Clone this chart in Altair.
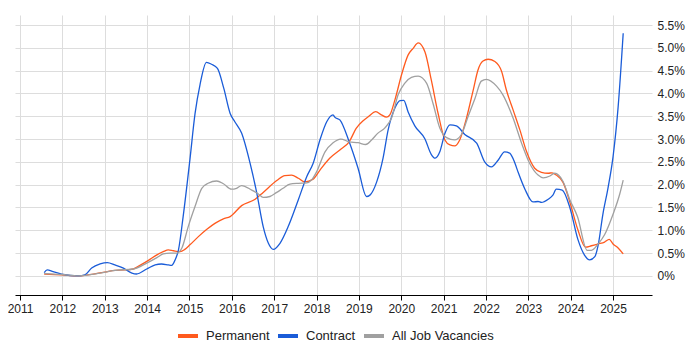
import altair as alt
import pandas as pd

series_names = ["Permanent", "Contract", "All Job Vacancies"]
series_colors = ["#FF5A1E", "#1A5CD8", "#A0A0A0"]

perm_x = [2011.57, 2011.98, 2012.38, 2012.73, 2013.0, 2013.24, 2013.48, 2013.67, 2013.83, 2014.03,
          2014.23, 2014.38, 2014.5, 2014.62, 2014.78, 2014.89, 2015.01, 2015.21, 2015.41, 2015.6,
          2015.8, 2015.96, 2016.23, 2016.55, 2016.74, 2017.06, 2017.25, 2017.41, 2017.57, 2017.72,
          2017.92, 2018.08, 2018.31, 2018.55, 2018.77, 2018.94, 2019.1, 2019.22, 2019.4, 2019.53,
          2019.65, 2019.73, 2019.85, 2020.01, 2020.16, 2020.28, 2020.4, 2020.56, 2020.71, 2020.87,
          2021.03, 2021.15, 2021.26, 2021.38, 2021.54, 2021.7, 2021.81, 2021.93, 2022.05, 2022.21,
          2022.37, 2022.48, 2022.64, 2022.8, 2022.96, 2023.15, 2023.31, 2023.47, 2023.56, 2023.66,
          2023.82, 2023.98, 2024.17, 2024.35, 2024.49, 2024.65, 2024.8, 2024.91, 2025.0, 2025.12,
          2025.24]
perm_y = [0.04, 0.02, 0.0, 0.04, 0.08, 0.12, 0.13, 0.15, 0.23, 0.34,
          0.46, 0.53, 0.57, 0.55, 0.53, 0.58, 0.68, 0.86, 1.02, 1.15,
          1.25, 1.30, 1.54, 1.68, 1.83, 2.09, 2.20, 2.21, 2.14, 2.06,
          2.12, 2.32, 2.58, 2.76, 2.94, 3.24, 3.40, 3.49, 3.60, 3.53,
          3.48, 3.53, 3.86, 4.42, 4.84, 4.99, 5.11, 4.91, 4.29, 3.56,
          2.98, 2.87, 2.85, 2.98, 3.46, 4.08, 4.51, 4.71, 4.75, 4.70,
          4.48, 4.08, 3.64, 3.20, 2.72, 2.36, 2.27, 2.25, 2.26, 2.21,
          2.05, 1.62, 1.01, 0.63, 0.66, 0.70, 0.74, 0.80, 0.70, 0.61,
          0.48]

contract_x = [2011.57, 2011.64, 2011.78, 2011.98, 2012.38, 2012.53, 2012.69, 2012.89, 2013.06, 2013.24,
              2013.44, 2013.64, 2013.75, 2013.99, 2014.19, 2014.34, 2014.5, 2014.58, 2014.66, 2014.74,
              2014.85, 2015.01, 2015.13, 2015.25, 2015.4, 2015.52, 2015.66, 2015.81, 2015.96, 2016.07,
              2016.23, 2016.43, 2016.59, 2016.74, 2016.86, 2016.98, 2017.14, 2017.33, 2017.57, 2017.77,
              2017.92, 2018.08, 2018.24, 2018.39, 2018.43, 2018.55, 2018.77, 2018.98, 2019.18, 2019.26,
              2019.42, 2019.57, 2019.69, 2019.85, 2019.97, 2020.06, 2020.16, 2020.32, 2020.56, 2020.71,
              2020.8, 2020.91, 2021.03, 2021.15, 2021.3, 2021.5, 2021.78, 2021.97, 2022.13, 2022.29,
              2022.44, 2022.56, 2022.68, 2022.76, 2022.92, 2023.11, 2023.23, 2023.31, 2023.47, 2023.58,
              2023.66, 2023.8, 2023.98, 2024.17, 2024.33, 2024.45, 2024.57, 2024.65, 2024.76, 2024.88,
              2025.0, 2025.12, 2025.24]
contract_y = [0.07, 0.13, 0.09, 0.04, 0.0, 0.02, 0.17, 0.26, 0.29, 0.24,
              0.17, 0.06, 0.04, 0.15, 0.24, 0.26, 0.24, 0.23, 0.35, 0.57,
              1.30, 2.55, 3.55, 4.20, 4.68, 4.64, 4.55, 4.11, 3.56, 3.38,
              3.13, 2.47, 1.81, 1.08, 0.72, 0.58, 0.72, 1.08, 1.67, 2.18,
              2.47, 2.98, 3.38, 3.53, 3.48, 3.42, 2.94, 2.36, 1.74, 1.77,
              2.06, 2.58, 3.20, 3.68, 3.84, 3.85, 3.60, 3.29, 3.00, 2.66,
              2.58, 2.72, 3.12, 3.31, 3.29, 3.10, 2.91, 2.50, 2.39, 2.54,
              2.72, 2.69, 2.48, 2.27, 1.90, 1.62, 1.63, 1.61, 1.68, 1.77,
              1.90, 1.88, 1.50, 0.80, 0.45, 0.35, 0.42, 0.68, 1.35, 1.92,
              2.61, 3.70, 5.32]

all_x = [2011.57, 2011.98, 2012.38, 2012.89, 2013.24, 2013.67, 2013.99, 2014.23, 2014.38, 2014.54,
         2014.7, 2014.82, 2014.97, 2015.13, 2015.29, 2015.44, 2015.64, 2015.8, 2015.99, 2016.11,
         2016.23, 2016.47, 2016.62, 2016.74, 2016.9, 2017.06, 2017.21, 2017.37, 2017.57, 2017.77,
         2017.88, 2018.0, 2018.2, 2018.39, 2018.57, 2018.77, 2018.98, 2019.16, 2019.3, 2019.45,
         2019.61, 2019.77, 2019.93, 2020.08, 2020.24, 2020.4, 2020.6, 2020.75, 2020.91, 2021.07,
         2021.26, 2021.42, 2021.58, 2021.74, 2021.89, 2022.01, 2022.25, 2022.4, 2022.64, 2022.84,
         2023.03, 2023.23, 2023.35, 2023.51, 2023.62, 2023.82, 2023.98, 2024.16, 2024.39, 2024.49,
         2024.65, 2024.8, 2025.0, 2025.16, 2025.24]
all_y = [0.05, 0.03, 0.0, 0.06, 0.12, 0.15, 0.28, 0.40, 0.48, 0.50,
         0.50, 0.61, 1.08, 1.52, 1.92, 2.03, 2.08, 2.02, 1.90, 1.92,
         1.98, 1.88, 1.80, 1.72, 1.74, 1.83, 1.92, 2.01, 2.03, 2.04,
         2.10, 2.28, 2.72, 2.92, 3.00, 2.94, 2.92, 2.88, 2.98, 3.13,
         3.24, 3.46, 3.98, 4.22, 4.35, 4.38, 4.22, 3.78, 3.24, 3.03,
         2.98, 3.10, 3.50, 3.89, 4.27, 4.31, 4.16, 3.97, 3.46, 2.91,
         2.47, 2.21, 2.15, 2.19, 2.25, 2.07, 1.67, 1.30, 0.56, 0.56,
         0.70, 0.90, 1.35, 1.80, 2.10]

years = list(range(2011, 2026))
y_ticks = [0, 0.5, 1.0, 1.5, 2.0, 2.5, 3.0, 3.5, 4.0, 4.5, 5.0, 5.5]

frames = []
for name, xs, ys in [("Permanent", perm_x, perm_y),
                     ("Contract", contract_x, contract_y),
                     ("All Job Vacancies", all_x, all_y)]:
    frames.append(pd.DataFrame({"year": xs, "value": ys, "series": name}))
df = pd.concat(frames, ignore_index=True)
df["order"] = df["series"].map({n: i for i, n in enumerate(series_names)})

chart = alt.Chart(df).mark_line(strokeWidth=1.3, interpolate="monotone").encode(
    x=alt.X("year:Q",
            scale=alt.Scale(domain=[2010.88, 2025.92], nice=False, zero=False),
            axis=alt.Axis(values=years, format="d", title=None, grid=True,
                          gridColor="#dddddd", domainColor="#000000", tickColor="#000000",
                          tickSize=5, labelFontSize=12, labelColor="#222222",
                          labelPadding=3, labelFont="Liberation Sans")),
    y=alt.Y("value:Q",
            scale=alt.Scale(domain=[-0.42, 5.72], nice=False, zero=False),
            axis=alt.Axis(orient="right", values=y_ticks, title=None, grid=True,
                          gridColor="#dddddd", domain=False, ticks=False,
                          labelExpr="datum.value == 0 ? '0%' : format(datum.value, '.1f') + '%'",
                          labelFontSize=12, labelColor="#222222", labelPadding=5,
                          labelFont="Liberation Sans")),
    color=alt.Color("series:N",
                    scale=alt.Scale(domain=series_names, range=series_colors),
                    legend=alt.Legend(title=None, orient="none", direction="horizontal",
                                      legendX=161, legendY=309, symbolType="stroke",
                                      symbolStrokeWidth=4, symbolSize=400,
                                      labelFontSize=13, labelFont="Liberation Sans",
                                      labelColor="#222222", labelOffset=6,
                                      columnPadding=0, padding=0)),
    order=alt.Order("order:Q"),
    detail="series:N",
).properties(
    width=637, height=280,
    autosize=alt.AutoSizeParams(type="none"),
    padding={"left": 7, "top": 7, "right": 40, "bottom": 47},
).configure_view(strokeWidth=0)

chart.save("out.html", embed_options={"renderer": "svg", "actions": False})
